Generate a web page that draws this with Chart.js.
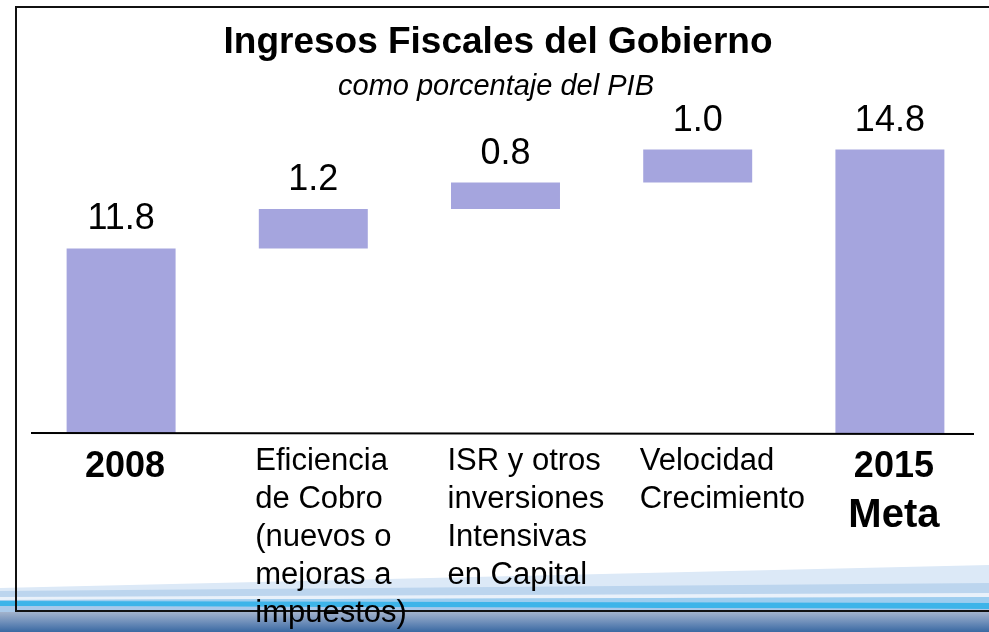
<!DOCTYPE html>
<html>
<head>
<meta charset="utf-8">
<script src="https://cdn.jsdelivr.net/npm/chart.js@4"></script>
<style>
  html, body { margin: 0; padding: 0; background: #fff; }
  canvas { display: block; }
</style>
</head>
<body>
<canvas id="chart" width="989" height="632"></canvas>
<script>
// data
const categories = [
    ['2008'],
    ['Eficiencia', 'de Cobro', '(nuevos o', 'mejoras a', 'impuestos)'],
    ['ISR y otros', 'inversiones', 'Intensivas', 'en Capital'],
    ['Velocidad', 'Crecimiento'],
    ['2015', 'Meta']
]
const increments = [11.8, 1.2, 0.8, 1.0, 14.8]
const isTotal = [true, false, false, false, true]
const valueLabels = ['11.8', '1.2', '0.8', '1.0', '14.8']

const title = 'Ingresos Fiscales del Gobierno'
const subtitle = 'como porcentaje del PIB'

const yMin = 6.2
const yMax = 16
const barColor = '#a5a5de'
const font = '"Liberation Sans", Arial, sans-serif'

// build floating bars: totals start at 0, steps start at the running sum
function buildBars() {
    let bars = []
    let running = 0
    for (let i = 0; i < increments.length; i++) {
        if (isTotal[i]) {
            bars.push([0, increments[i]])
            running = increments[i]
        } else {
            bars.push([running, running + increments[i]])
            running = running + increments[i]
        }
    }
    return bars
}

const backdrop = {
    id: 'backdrop',
    beforeDraw(chart) {
        const ctx = chart.ctx
        const w = chart.width
        ctx.save()
        ctx.fillStyle = '#ffffff'
        ctx.fillRect(0, 0, w, chart.height)

        // blue swoosh at the bottom
        const poly = (pts, color) => {
            ctx.beginPath()
            ctx.moveTo(pts[0][0], pts[0][1])
            for (let k = 1; k < pts.length; k++) ctx.lineTo(pts[k][0], pts[k][1])
            ctx.closePath()
            ctx.fillStyle = color
            ctx.fill()
        }
        poly([[0, 588], [w, 565], [w, 612], [0, 612]], '#dce9f7')
        poly([[0, 591], [w, 583], [w, 612], [0, 612]], '#bcd5ee')
        poly([[0, 597], [w, 593], [w, 597], [0, 600]], '#e9f1fa')
        poly([[0, 600], [w, 597], [w, 612], [0, 612]], '#9ccdef')
        poly([[0, 601], [w, 603], [w, 609], [0, 606]], '#3db4e9')
        poly([[0, 606], [w, 609], [w, 612], [0, 612]], '#a9c9ea')

        const g = ctx.createLinearGradient(0, 612, 0, chart.height)
        g.addColorStop(0, '#a3b3cc')
        g.addColorStop(0.5, '#6f8fba')
        g.addColorStop(1, '#3a69a2')
        ctx.fillStyle = g
        ctx.fillRect(0, 612, w, chart.height - 612)

        // frame
        ctx.strokeStyle = '#111111'
        ctx.lineWidth = 2
        ctx.beginPath()
        ctx.moveTo(w + 2, 7)
        ctx.lineTo(16, 7)
        ctx.lineTo(16, 611)
        ctx.lineTo(w + 2, 611)
        ctx.stroke()

        // title
        ctx.fillStyle = '#000000'
        ctx.textAlign = 'center'
        ctx.textBaseline = 'alphabetic'
        ctx.font = 'bold 37px ' + font
        ctx.fillText(title, 498, 53)
        ctx.font = 'italic 29px ' + font
        ctx.fillText(subtitle, 496, 95)
        ctx.restore()
    },
    afterDatasetsDraw(chart) {
        const ctx = chart.ctx
        const meta = chart.getDatasetMeta(0)
        const yScale = chart.scales.y
        const axisY = yScale.getPixelForValue(yMin)
        ctx.save()

        // axis line
        ctx.strokeStyle = '#000000'
        ctx.lineWidth = 2
        ctx.beginPath()
        ctx.moveTo(31, axisY)
        ctx.lineTo(974, axisY + 1)
        ctx.stroke()

        ctx.fillStyle = '#000000'
        ctx.textBaseline = 'alphabetic'
        for (let i = 0; i < meta.data.length; i++) {
            const bar = meta.data[i]
            const top = Math.min(bar.y, bar.base)

            // value above bar
            ctx.textAlign = 'center'
            ctx.font = '36px ' + font
            ctx.fillText(valueLabels[i], bar.x, top - 19)

            // category label under the axis
            const lines = categories[i]
            if (isTotal[i]) {
                ctx.textAlign = 'center'
                for (let j = 0; j < lines.length; j++) {
                    ctx.font = 'bold ' + (j == 0 ? 36 : 40) + 'px ' + font
                    ctx.fillText(lines[j], bar.x + 4, axisY + 44 + j * 50)
                }
            } else {
                ctx.textAlign = 'left'
                ctx.font = '31px ' + font
                for (let j = 0; j < lines.length; j++) {
                    ctx.fillText(lines[j], bar.x - 58, axisY + 37 + j * 38)
                }
            }
        }
        ctx.restore()
    }
}

const chart = new Chart(
    document.getElementById('chart'),
    {
        type: 'bar',
        data: {
            labels: categories.map(c => c.join(' ')),
            datasets: [
                {
                    label: null,
                    data: buildBars(),
                    backgroundColor: barColor,
                    borderWidth: 0,
                    barPercentage: 1,
                    categoryPercentage: 0.567
                }
            ]
        },
        options: {
            responsive: false,
            animation: false,
            devicePixelRatio: 1,
            layout: {
                padding: { left: 25, right: 3, top: 110, bottom: 199 }
            },
            plugins: {
                legend: { display: false },
                tooltip: { enabled: false }
            },
            scales: {
                x: { display: false },
                y: { display: false, min: yMin, max: yMax }
            }
        },
        plugins: [backdrop]
    })
</script>
</body>
</html>
